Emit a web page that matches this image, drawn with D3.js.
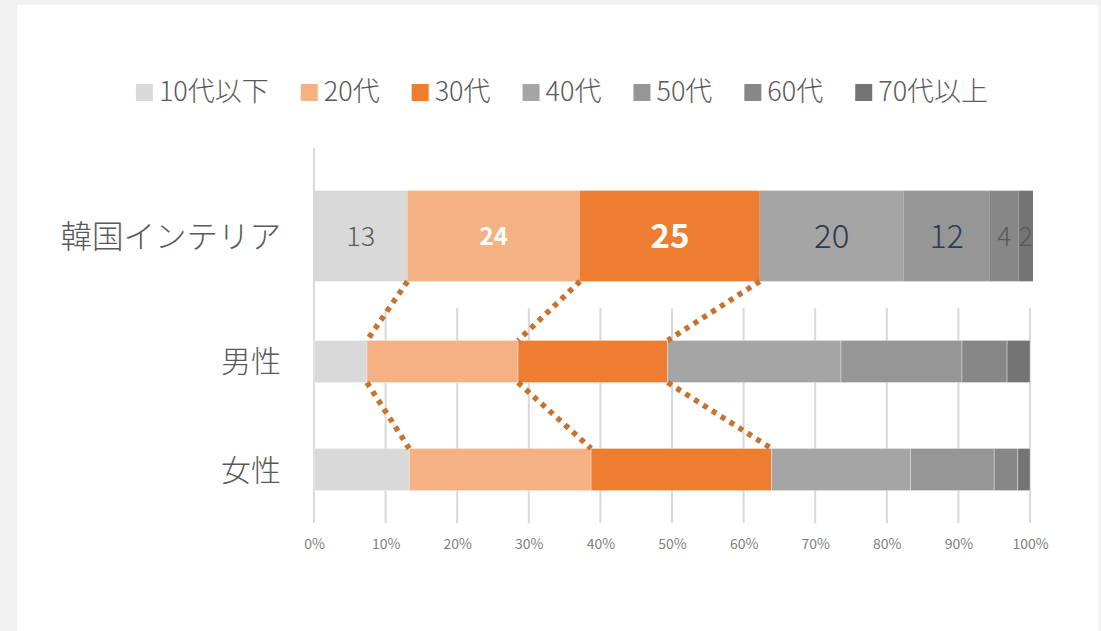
<!DOCTYPE html>
<html>
<head>
<meta charset="utf-8">
<script src="https://cdn.jsdelivr.net/npm/d3@7"></script>
<style>
  html, body { margin: 0; padding: 0; background: #f2f2f2; }
  svg { display: block; }
  text { font-family: "Noto Sans CJK JP", "Noto Sans", sans-serif; font-weight: 300; }
</style>
</head>
<body>
<svg id="chart" width="1101" height="631"></svg>
<script>
// Data
const overallLabel = ["韓国インテリア"];
const genderLabels = ["男性", "女性"];
const ageGroups = ["10代以下", "20代", "30代", "40代", "50代", "60代", "70代以上"];
const overall = [13, 24, 25, 20, 12, 4, 2];          // % 韓国インテリア
const male = [7.4, 21.1, 20.9, 24.2, 16.9, 6.3, 3.2]; // % 男性
const female = [13.3, 25.4, 25.2, 19.4, 11.7, 3.3, 1.7]; // % 女性
const xTickValues = [0, 0.1, 0.2, 0.3, 0.4, 0.5, 0.6, 0.7, 0.8, 0.9, 1];

// Styles
const colors = ["#d9d9d9", "#f4b183", "#ed7d31", "#a5a5a5", "#969696", "#878787", "#747474"];
const labelStyle = [
  { size: 27, weight: 300, fill: "#595959" },
  { size: 24, weight: 700, fill: "#ffffff" },
  { size: 33, weight: 700, fill: "#ffffff" },
  { size: 33, weight: 300, fill: "#2f3b4f" },
  { size: 32, weight: 300, fill: "#2f3b4f" },
  { size: 26, weight: 300, fill: "#595959" },
  { size: 26, weight: 300, fill: "#595959" },
];
const gridColor = "#d9d9d9";
const connectorColor = "#c5732e";

const svg = d3.select("#chart");

// white panel
svg.append("rect")
  .attr("x", 17).attr("y", 5)
  .attr("width", 1081).attr("height", 626)
  .attr("fill", "#ffffff");

function stack(values) {
  let acc = 0;
  return values.map((v, i) => {
    const d = { i: i, group: ageGroups[i], value: v, x0: acc, x1: acc + v };
    acc += v;
    return d;
  });
}

// ---------- legend ----------
const legend = svg.append("g");
let lx = 0;
ageGroups.forEach(function (g, i) {
  const item = legend.append("g").attr("transform", `translate(${lx},0)`);
  item.append("rect")
    .attr("x", 0).attr("y", 84)
    .attr("width", 17).attr("height", 17)
    .attr("fill", colors[i]);
  const t = item.append("text")
    .attr("x", 23).attr("y", 89)
    .attr("dominant-baseline", "central")
    .attr("font-size", 27)
    .attr("fill", "#595959")
    .text(g);
  lx += 23 + t.node().getComputedTextLength() + 32;
});
const legendWidth = lx - 32;
legend.attr("transform", `translate(${562 - legendWidth / 2},0)`);

// ---------- top chart (韓国インテリア) ----------
const xTop = d3.scaleLinear().domain([0, 100]).range([314, 1033]);
const yTop = d3.scaleBand().domain(overallLabel).range([148, 324]).padding(0.32);

const topG = svg.append("g");
topG.append("line")
  .attr("x1", xTop(0)).attr("x2", xTop(0))
  .attr("y1", 148).attr("y2", 324)
  .attr("stroke", gridColor).attr("stroke-width", 2);

const overallStack = stack(overall);
topG.selectAll(".seg")
  .data(overallStack)
  .enter()
  .append("rect")
  .attr("x", (d) => xTop(d.x0))
  .attr("y", yTop(overallLabel[0]))
  .attr("width", (d) => xTop(d.x1) - xTop(d.x0))
  .attr("height", yTop.bandwidth())
  .attr("fill", (d) => colors[d.i]);

topG.selectAll(".lbl")
  .data(overallStack)
  .enter()
  .append("text")
  .attr("x", (d) => xTop((d.x0 + d.x1) / 2))
  .attr("y", yTop(overallLabel[0]) + yTop.bandwidth() / 2 - 2)
  .attr("text-anchor", "middle")
  .attr("dominant-baseline", "central")
  .attr("font-size", (d) => labelStyle[d.i].size)
  .style("font-weight", (d) => labelStyle[d.i].weight)
  .attr("fill", (d) => labelStyle[d.i].fill)
  .text((d) => d.value);

topG.append("text")
  .attr("x", 281)
  .attr("y", yTop(overallLabel[0]) + yTop.bandwidth() / 2 - 2)
  .attr("text-anchor", "end")
  .attr("dominant-baseline", "central")
  .attr("font-size", 31.5)
  .attr("fill", "#595959")
  .text(overallLabel[0]);

// ---------- bottom chart (男性 / 女性) ----------
const xBot = d3.scaleLinear().domain([0, 1]).range([314, 1030]);
const yBot = d3.scaleBand().domain(genderLabels).range([308, 523])
  .paddingInner(0.61).paddingOuter(0.3);

const botG = svg.append("g");
botG.selectAll(".grid")
  .data(xTickValues)
  .enter()
  .append("line")
  .attr("x1", (d) => xBot(d)).attr("x2", (d) => xBot(d))
  .attr("y1", 308).attr("y2", 523)
  .attr("stroke", gridColor).attr("stroke-width", 2);

const xAxis = d3.axisBottom(xBot)
  .tickValues(xTickValues)
  .tickFormat(d3.format(".0%"))
  .tickSize(0);
const axisG = botG.append("g")
  .attr("transform", "translate(0,523)")
  .call(xAxis);
axisG.select(".domain").remove();
axisG.selectAll("text")
  .attr("y", 21)
  .attr("dy", "0.35em")
  .attr("font-family", "\"Noto Sans CJK JP\", \"Noto Sans\", sans-serif")
  .attr("font-size", 14)
  .style("font-weight", 400)
  .attr("fill", "#7f7f7f");

[male, female].forEach(function (vals, k) {
  const st = stack(vals);
  botG.selectAll(".seg" + k)
    .data(st)
    .enter()
    .append("rect")
    .attr("x", (d) => xBot(d.x0 / 100))
    .attr("y", yBot(genderLabels[k]))
    .attr("width", (d) => xBot(d.x1 / 100) - xBot(d.x0 / 100))
    .attr("height", yBot.bandwidth())
    .attr("fill", (d) => colors[d.i])
    .attr("stroke", "#ffffff")
    .attr("stroke-opacity", 0.45)
    .attr("stroke-width", 0.75);

  botG.append("text")
    .attr("x", 281)
    .attr("y", yBot(genderLabels[k]) + yBot.bandwidth() / 2 - 2)
    .attr("text-anchor", "end")
    .attr("dominant-baseline", "central")
    .attr("font-size", 30)
    .attr("fill", "#595959")
    .text(genderLabels[k]);
});

// ---------- dotted connectors (10代以下, 20代, 30代 boundaries) ----------
const topStack = stack(overall), mStack = stack(male), fStack = stack(female);
const topBottom = yTop(overallLabel[0]) + yTop.bandwidth();
const mTop = yBot("男性"), mBottom = yBot("男性") + yBot.bandwidth();
const fTop = yBot("女性");
[0, 1, 2].forEach(function (i) {
  const segs = [
    [[xTop(topStack[i].x1), topBottom], [xBot(mStack[i].x1 / 100), mTop]],
    [[xBot(mStack[i].x1 / 100), mBottom], [xBot(fStack[i].x1 / 100), fTop]],
  ];
  segs.forEach(function (seg) {
    svg.append("path")
      .attr("d", d3.line()(seg))
      .attr("fill", "none")
      .attr("stroke", connectorColor)
      .attr("stroke-width", 5.5)
      .attr("stroke-dasharray", "5 5.5");
  });
});
</script>
</body>
</html>
